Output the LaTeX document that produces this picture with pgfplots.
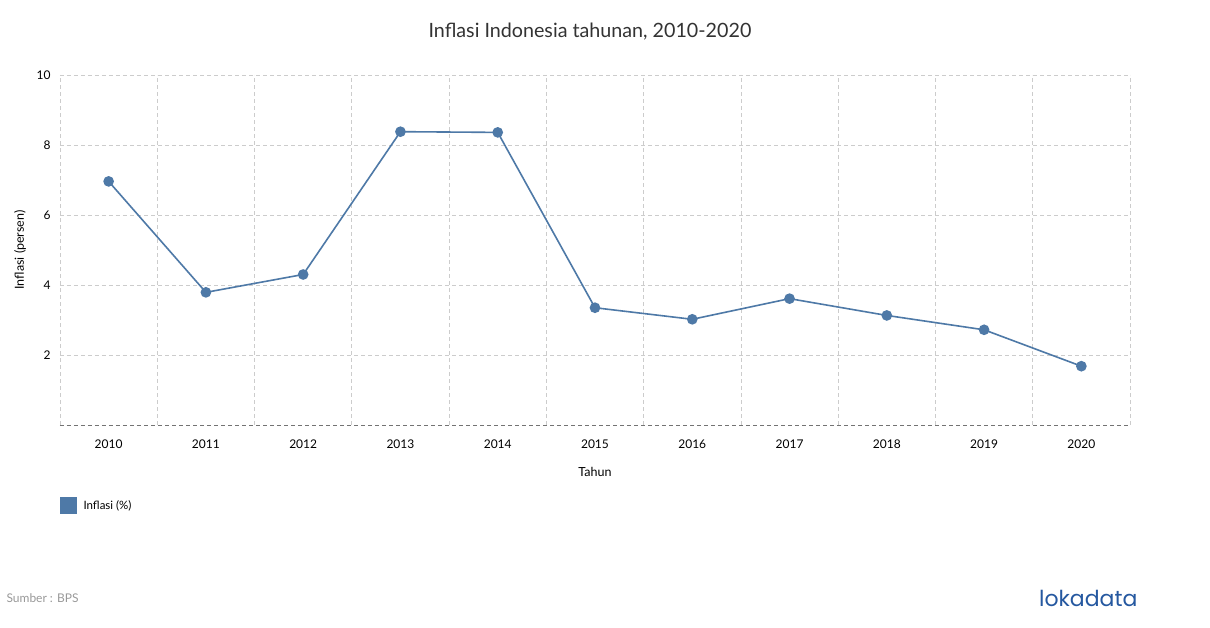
\documentclass[border=0pt]{standalone}
\usepackage{pgfplots}
\pgfplotsset{compat=1.18}
\usepackage{fontspec}
\setmainfont{Lato}
\newfontfamily\logofont{Poppins}
\definecolor{series}{RGB}{78,121,167}
\definecolor{gridc}{RGB}{204,204,204}
\definecolor{txt}{RGB}{51,51,51}
\begin{document}
\begin{tikzpicture}[x=1pt,y=1pt]
\fill[white] (0,0) rectangle (1210,628);
\begin{axis}[
  at={(60pt,203pt)}, anchor=south west,
  scale only axis, width=1070pt, height=350pt,
  xmin=-0.5, xmax=10.5, ymin=0, ymax=10,
  axis line style={draw=none},
  /pgf/number format/assume math mode=true,
  xtick={0,...,10},
  xticklabels={2010,2011,2012,2013,2014,2015,2016,2017,2018,2019,2020},
  minor xtick={-0.5,0.5,...,10.5},
  ytick={2,4,6,8,10},
  major tick length=0pt, minor tick length=0pt,
  xmajorgrids=false, xminorgrids=true, ymajorgrids=true,
  minor grid style={gridc, dashed, line width=0.8pt, dash pattern=on 4pt off 3pt},
  major grid style={gridc, dashed, line width=0.8pt, dash pattern=on 4pt off 3pt},
  tick label style={font=\fontsize{12}{14}\selectfont, text=black},
  xticklabel style={yshift=-11pt},
  yticklabel style={xshift=-6pt},
  xlabel={Tahun}, ylabel={Inflasi (persen)},
  label style={font=\fontsize{12.5}{14}\selectfont, text=black},
  xlabel style={at={(axis description cs:0.5,-0.134)}, anchor=center},
  ylabel style={at={(axis description cs:-0.0374,0.5)}, anchor=center},
  clip=false,
]
\draw[gray!90!black, line width=0.8pt, dash pattern=on 4pt off 3pt] (axis cs:-0.5,0) -- (axis cs:10.5,0);
\addplot[series, line width=1.6pt, mark=*, mark size=4.5pt, mark options={fill=series, draw=series}] coordinates {
(0,6.96) (1,3.79) (2,4.30) (3,8.38) (4,8.36) (5,3.35) (6,3.02) (7,3.61) (8,3.13) (9,2.72) (10,1.68)
};
\end{axis}
\node[font=\fontsize{19.7}{22}\selectfont, text=txt] at (590,596) {Inflasi Indonesia tahunan, 2010-2020};
\fill[series] (60,114) rectangle (77,131);
\node[anchor=west, font=\fontsize{11.5}{13}\selectfont, text=black] at (80,122.5) {Inflasi (\%)};
\node[anchor=west, font=\fontsize{12}{13}\selectfont, text=gray!80] at (3,30) {Sumber : BPS};
\node[anchor=east, font=\logofont\fontsize{22}{24}\selectfont, text={rgb,255:red,37;green,88;blue,160}] at (1141,30) {lokadata};
\end{tikzpicture}
\end{document}
